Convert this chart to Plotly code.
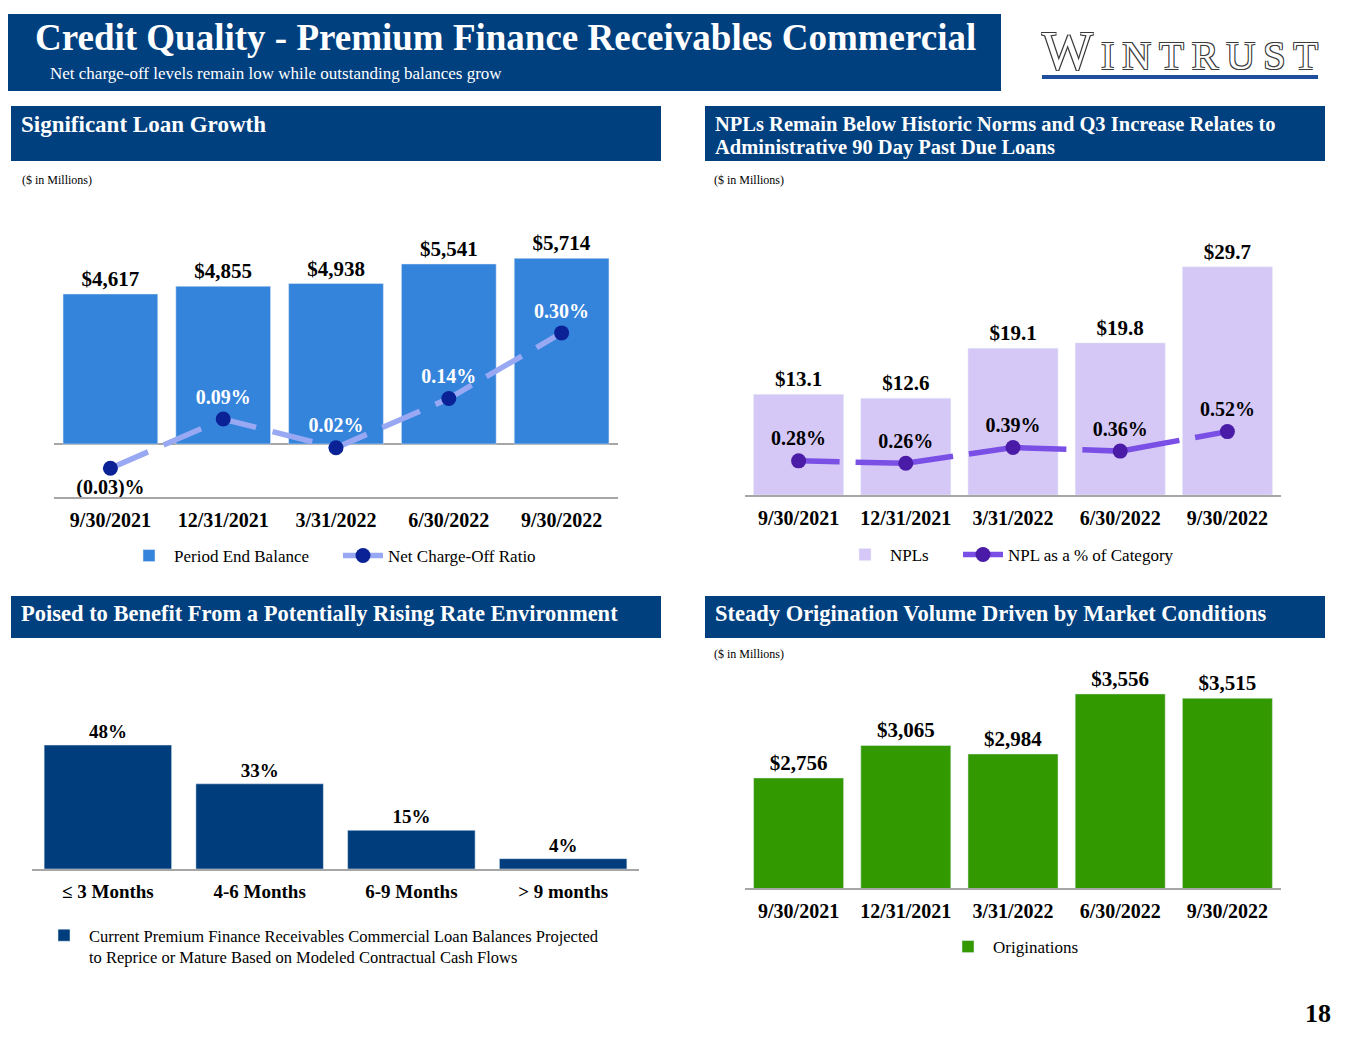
import plotly.graph_objects as go

# the page body keeps its default 8px margin, so the figure is drawn 8px in
# from the top left; all pixel positions below are page pixels
W, H = 1365, 1055
PAD = 8
FW, FH = W - 2 * PAD, H - 2 * PAD

# data
quarters = ["9/30/2021", "12/31/2021", "3/31/2022", "6/30/2022", "9/30/2022"]
period_end_balance = [4617, 4855, 4938, 5541, 5714]
nco_ratio = [-0.03, 0.09, 0.02, 0.14, 0.30]
npl_balance = [13.1, 12.6, 19.1, 19.8, 29.7]
npl_pct = [0.28, 0.26, 0.39, 0.36, 0.52]
reprice_buckets = ["\u2264 3 Months", "4-6 Months", "6-9 Months", "> 9 months"]
reprice_share = [48, 33, 15, 4]
originations = [2756, 3065, 2984, 3556, 3515]

SERIF = "Liberation Serif"
NAVY = "#00407F"
AXIS_GREY = "#A6A6A6"


def px(x):
    # page pixel column -> paper x
    return (x - PAD) / FW


def py(y):
    # page pixel row -> paper y
    return 1 - (y - PAD) / FH


def pct_label(v):
    return f"({abs(v):.2f})%" if v < 0 else f"{v:.2f}%"


fig = go.Figure()

bar_font = dict(family=SERIF, size=21, color="black", weight="bold")

# --- top left: period end balance + net charge-off ratio
fig.add_trace(go.Bar(x=quarters, y=period_end_balance, marker_color="#3584DC", width=0.84,
                     texttemplate="$%{y:,}", textposition="outside", cliponaxis=False,
                     textfont=bar_font, name="Period End Balance",
                     legend="legend", legendwidth=159, xaxis="x", yaxis="y"))
fig.add_trace(go.Scatter(x=quarters, y=nco_ratio, mode="lines+markers+text",
                         line=dict(color="#98A8F2", width=5.5, dash="41px,17px"),
                         marker=dict(color="#0B2296", size=15),
                         text=[pct_label(v) for v in nco_ratio],
                         textposition=["bottom center"] + ["top center"] * 4,
                         textfont=dict(bar_font, size=20, color=["black"] + ["white"] * 4),
                         cliponaxis=False, name="Net Charge-Off Ratio",
                         legend="legend", legendwidth=220, xaxis="x", yaxis="y2"))

# --- top right: NPLs + NPL %
fig.add_trace(go.Bar(x=quarters, y=npl_balance, marker_color="#D5C8F6", width=0.84,
                     texttemplate="$%{y:.1f}", textposition="outside", cliponaxis=False,
                     textfont=bar_font, name="NPLs", legend="legend2", legendwidth=63,
                     xaxis="x2", yaxis="y3"))
fig.add_trace(go.Scatter(x=quarters, y=npl_pct, mode="lines+markers+text",
                         line=dict(color="#7A4FE5", width=5.5, dash="41px,16px,57px,0px"),
                         marker=dict(color="#4A1BA6", size=15),
                         text=[pct_label(v) for v in npl_pct], textposition="top center",
                         textfont=dict(bar_font, size=20),
                         cliponaxis=False, name="NPL as a % of Category",
                         legend="legend2", legendwidth=230, xaxis="x2", yaxis="y4"))

# --- bottom left: repricing buckets
fig.add_trace(go.Bar(x=reprice_buckets, y=reprice_share, marker_color="#003D7D", width=0.84,
                     texttemplate="%{y}%", textposition="outside", cliponaxis=False,
                     textfont=dict(bar_font, size=19),
                     name="Current Premium Finance Receivables Commercial Loan Balances Projected"
                          "<br>to Reprice or Mature Based on Modeled Contractual Cash Flows",
                     legend="legend3", xaxis="x3", yaxis="y5"))

# --- bottom right: originations
fig.add_trace(go.Bar(x=quarters, y=originations, marker_color="#339900", width=0.84,
                     texttemplate="$%{y:,}", textposition="outside", cliponaxis=False,
                     textfont=bar_font, name="Originations", legend="legend4",
                     xaxis="x4", yaxis="y6"))

tick_font = dict(family=SERIF, size=20, color="black", weight="bold")
xcommon = dict(type="category", showline=True, linecolor=AXIS_GREY, linewidth=2, ticks="",
               tickfont=tick_font, showgrid=False, zeroline=False, fixedrange=True,
               ticklabelstandoff=4)
yhidden = dict(showgrid=False, showticklabels=False, zeroline=False, showline=False,
               fixedrange=True)

legend_common = dict(orientation="h", font=dict(family=SERIF, size=17, color="black"),
                     bgcolor="rgba(0,0,0,0)", xanchor="left", yanchor="middle",
                     traceorder="normal", itemwidth=40)

fig.update_layout(
    width=FW, height=FH, margin=dict(l=0, r=0, t=0, b=0),
    paper_bgcolor="white", plot_bgcolor="rgba(0,0,0,0)",
    bargap=0.16,
    xaxis=dict(xcommon, domain=[px(54), px(618)], anchor="y"),
    yaxis=dict(yhidden, domain=[py(497), py(200)], range=[-1631, 7510],
               zeroline=True, zerolinecolor=AXIS_GREY, zerolinewidth=2),
    yaxis2=dict(yhidden, overlaying="y", range=[-0.1, 0.624]),
    xaxis2=dict(xcommon, domain=[px(745), px(1281)], anchor="y3"),
    yaxis3=dict(yhidden, domain=[py(495), py(200)], range=[0, 38.4]),
    yaxis4=dict(yhidden, overlaying="y3", range=[0, 2.42]),
    xaxis3=dict(xcommon, domain=[px(32), px(639)], anchor="y5",
                tickfont=dict(tick_font, size=19)),
    yaxis5=dict(yhidden, domain=[py(869), py(680)], range=[0, 73.2]),
    xaxis4=dict(xcommon, domain=[px(745), px(1281)], anchor="y6"),
    yaxis6=dict(yhidden, domain=[py(888), py(660)], range=[1708, 3879]),
    legend=dict(legend_common, x=px(124), y=py(556)),
    legend2=dict(legend_common, x=px(840), y=py(555)),
    legend3=dict(legend_common, x=px(39), y=py(946), valign="top",
                 font=dict(family=SERIF, size=16.5, color="black")),
    legend4=dict(legend_common, x=px(943), y=py(947)),
)

shapes = []
annotations = []


def box(x0, y0, x1, y1, color):
    shapes.append(dict(type="rect", xref="paper", yref="paper", x0=px(x0), x1=px(x1),
                       y0=py(y1), y1=py(y0), fillcolor=color, line=dict(width=0), layer="below"))


def label(x, y, text, size, color="black", bold=False, anchor="left", **kw):
    annotations.append(dict(xref="paper", yref="paper", x=px(x), y=py(y), text=text,
                            showarrow=False, xanchor=anchor, yanchor="middle", align="left",
                            font=dict(family=SERIF, size=size, color=color,
                                      weight="bold" if bold else "normal", **kw)))


# page header
box(0, 14, 1001, 91, NAVY)
label(33, 37, "Credit Quality - Premium Finance Receivables Commercial", 37, "white", True)
label(48, 74, "Net charge-off levels remain low while outstanding balances grow", 17, "white")

# logo
box(1042, 75, 1318, 79, "#1F4E9C")
label(1040, 51,
      "W<span style='font-size:40px'>\u2009I\u2009N\u2009T\u2009R\u2009U\u2009S\u2009T</span>",
      54, "white",
      shadow="1px 1px 0 #3a3a3a, -1px -1px 0 #3a3a3a, 1px -1px 0 #3a3a3a, -1px 1px 0 #3a3a3a")

# section headers
box(11, 106, 661, 161, NAVY)
label(19, 124, "Significant Loan Growth", 23, "white", True)
box(705, 106, 1325, 161, NAVY)
label(713, 124, "NPLs Remain Below Historic Norms and Q3 Increase Relates to", 20.5, "white", True)
label(713, 147, "Administrative 90 Day Past Due Loans", 20.5, "white", True)
box(11, 596, 661, 638, NAVY)
label(19, 613, "Poised to Benefit From a Potentially Rising Rate Environment", 22.5, "white", True)
box(705, 596, 1325, 638, NAVY)
label(713, 613, "Steady Origination Volume Driven by Market Conditions", 22.5, "white", True)

label(20, 180, "($ in Millions)", 12)
label(712, 180, "($ in Millions)", 12)
label(712, 654, "($ in Millions)", 12)

label(1333, 1013, "18", 26, bold=True, anchor="right")

fig.update_layout(shapes=shapes, annotations=annotations)

fig.write_html("out.html")
